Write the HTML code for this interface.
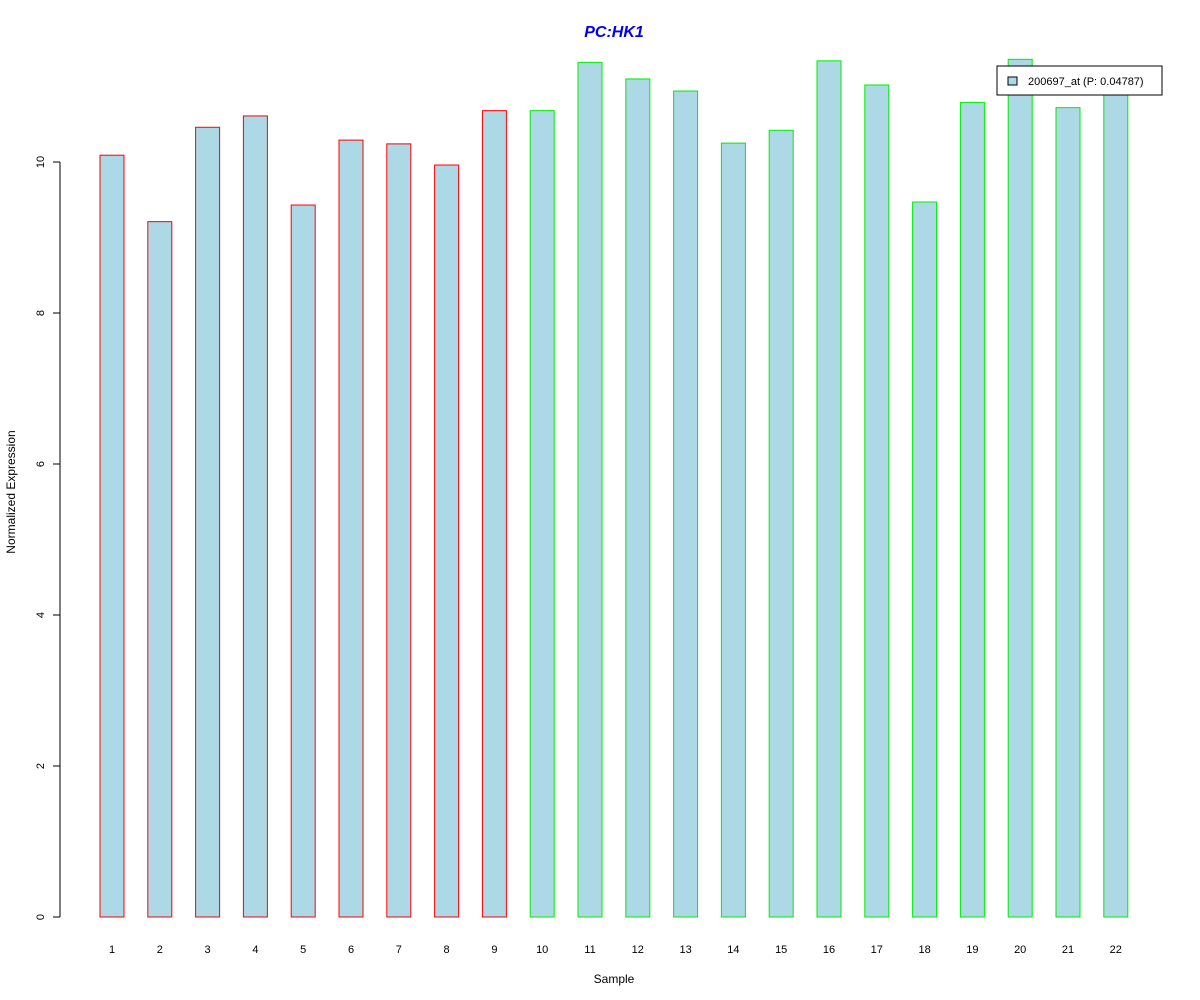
<!DOCTYPE html>
<html><head><meta charset="utf-8"><style>body{margin:0;background:#fff}svg{display:block}text{font-family:"Liberation Sans",Arial,sans-serif}</style></head>
<body>
<svg id="chart" width="1200" height="1000" viewBox="0 0 1200 1000" xmlns="http://www.w3.org/2000/svg">
<text x="614" y="37" text-anchor="middle" font-size="16" font-weight="bold" font-style="italic" fill="#0000ee">PC:HK1</text>
<text x="614" y="983" text-anchor="middle" font-size="12">Sample</text>
<text transform="translate(15,492) rotate(-90)" text-anchor="middle" font-size="12">Normalized Expression</text>
<g id="bars"></g><g id="yaxis"></g><g id="xlabels"></g>
<g>
<rect x="997" y="66" width="165" height="29" fill="#fff" stroke="#000"/>
<rect x="1008" y="77" width="9" height="8" fill="#add8e6" stroke="#000"/>
<text x="1028" y="85" font-size="11">200697_at (P: 0.04787)</text>
</g>
</svg>
<script>
const categories = ["1","2","3","4","5","6","7","8","9","10","11","12","13","14","15","16","17","18","19","20","21","22"];
const values = [10.09,9.21,10.46,10.61,9.43,10.29,10.24,9.96,10.68,10.68,11.32,11.10,10.94,10.25,10.42,11.34,11.02,9.47,10.79,11.36,10.72,10.99];
const groups = ["a","a","a","a","a","a","a","a","a","b","b","b","b","b","b","b","b","b","b","b","b","b"];
const yTicks = [0,2,4,6,8,10];
const NS="http://www.w3.org/2000/svg";
const y0=917, pxPerUnit=75.5;
function yScale(v){return y0-v*pxPerUnit;}
function xScale(i){return 112+i*47.8;}
const bars=document.getElementById('bars');
values.forEach((v,i)=>{
 const r=document.createElementNS(NS,'rect');
 
 
 r.setAttribute('x',xScale(i)-12);r.setAttribute('width',24);
 r.setAttribute('y',yScale(v));r.setAttribute('height',y0-yScale(v));
 r.setAttribute('fill','#add8e6');r.setAttribute('stroke',groups[i]==='a'?'#ff0000':'#00ee00');
 bars.appendChild(r);
 const t=document.createElementNS(NS,'text');
 
 
 t.setAttribute('x',xScale(i));t.setAttribute('y',953);t.setAttribute('text-anchor','middle');t.setAttribute('font-size','11');
 t.textContent=categories[i];
 document.getElementById('xlabels').appendChild(t);
});
const ya=document.getElementById('yaxis');
const ax=document.createElementNS(NS,'line');


ax.setAttribute('x1',60);ax.setAttribute('x2',60);ax.setAttribute('y1',yScale(yTicks[0]));ax.setAttribute('y2',yScale(yTicks[yTicks.length-1]));ax.setAttribute('stroke','#000');
ya.appendChild(ax);
yTicks.forEach(v=>{
 const l=document.createElementNS(NS,'line');
 
 
 l.setAttribute('x1',53);l.setAttribute('x2',60);l.setAttribute('y1',yScale(v));l.setAttribute('y2',yScale(v));l.setAttribute('stroke','#000');
 ya.appendChild(l);
 const t=document.createElementNS(NS,'text');
 
 
 t.setAttribute('transform','translate(44,'+yScale(v)+') rotate(-90)');t.setAttribute('text-anchor','middle');t.setAttribute('font-size','11');
 t.textContent=v;
 ya.appendChild(t);
});
</script>
</body></html>
